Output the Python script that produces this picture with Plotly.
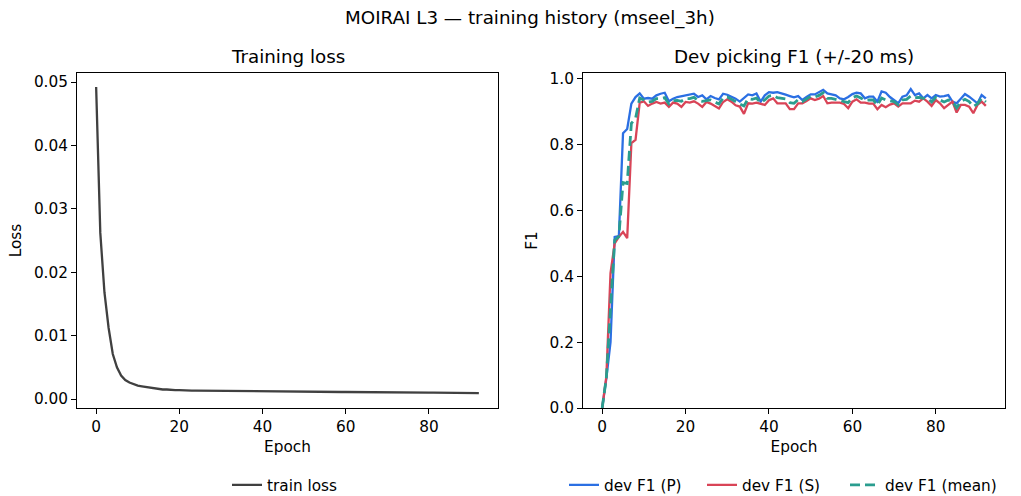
import plotly.graph_objects as go
from plotly.subplots import make_subplots

epochs = list(range(93))

train_loss = [
    0.0492, 0.0262, 0.0168, 0.0112, 0.0071, 0.0050, 0.0037, 0.0030, 0.0026, 0.0023,
    0.0021, 0.0020, 0.0019, 0.0017, 0.0016, 0.0016, 0.0015, 0.0015, 0.0014, 0.0014,
    0.0014, 0.00135, 0.00134, 0.00133, 0.00132, 0.00131, 0.00130, 0.00131, 0.00129, 0.00135,
    0.00127, 0.00126, 0.00126, 0.00125, 0.00124, 0.00124, 0.00123, 0.00123, 0.00122, 0.00121,
    0.00121, 0.00120, 0.00120, 0.00119, 0.00118, 0.00118, 0.00117, 0.00117, 0.00116, 0.00116,
    0.00115, 0.00115, 0.00114, 0.00114, 0.00113, 0.00113, 0.00112, 0.00111, 0.00111, 0.00110,
    0.00110, 0.00109, 0.00109, 0.00108, 0.00108, 0.00107, 0.00107, 0.00106, 0.00106, 0.00105,
    0.00105, 0.00104, 0.00104, 0.00103, 0.00103, 0.00102, 0.00101, 0.00101, 0.00100, 0.00100,
    0.00099, 0.00099, 0.00098, 0.00098, 0.00097, 0.00097, 0.00096, 0.00096, 0.00095, 0.00095,
    0.00094, 0.00093, 0.00093,
]

f1_p = [
    0.000, 0.090, 0.200, 0.520, 0.522, 0.835, 0.848, 0.925, 0.945, 0.956,
    0.940, 0.942, 0.940, 0.950, 0.955, 0.958, 0.932, 0.940, 0.945, 0.948,
    0.950, 0.952, 0.955, 0.945, 0.950, 0.938, 0.948, 0.942, 0.938, 0.955,
    0.952, 0.946, 0.940, 0.931, 0.942, 0.953, 0.950, 0.956, 0.931, 0.950,
    0.960, 0.958, 0.960, 0.957, 0.952, 0.948, 0.944, 0.948, 0.936, 0.945,
    0.953, 0.953, 0.960, 0.967, 0.956, 0.954, 0.950, 0.941, 0.938, 0.945,
    0.954, 0.958, 0.956, 0.941, 0.946, 0.946, 0.931, 0.962, 0.958, 0.945,
    0.936, 0.926, 0.946, 0.950, 0.969, 0.951, 0.956, 0.941, 0.951, 0.941,
    0.951, 0.946, 0.948, 0.951, 0.931, 0.926, 0.940, 0.954, 0.946, 0.936,
    0.926, 0.951, 0.941,
]

f1_s = [
    0.000, 0.095, 0.410, 0.500, 0.520, 0.535, 0.516, 0.805, 0.815, 0.928,
    0.932, 0.918, 0.925, 0.930, 0.925, 0.928, 0.915, 0.928, 0.925, 0.915,
    0.930, 0.928, 0.932, 0.925, 0.915, 0.930, 0.925, 0.918, 0.910, 0.930,
    0.938, 0.931, 0.920, 0.916, 0.894, 0.926, 0.925, 0.928, 0.924, 0.921,
    0.935, 0.941, 0.926, 0.926, 0.926, 0.908, 0.908, 0.926, 0.926, 0.933,
    0.941, 0.936, 0.940, 0.948, 0.926, 0.928, 0.928, 0.928, 0.924, 0.911,
    0.931, 0.938, 0.928, 0.928, 0.925, 0.925, 0.908, 0.921, 0.914, 0.922,
    0.926, 0.916, 0.926, 0.926, 0.926, 0.934, 0.931, 0.941, 0.931, 0.918,
    0.936, 0.926, 0.911, 0.921, 0.931, 0.898, 0.921, 0.921, 0.916, 0.896,
    0.921, 0.931, 0.918,
]

f1_mean = [
    0.000, 0.092, 0.305, 0.510, 0.521, 0.685, 0.682, 0.865, 0.880, 0.942,
    0.936, 0.930, 0.932, 0.940, 0.940, 0.943, 0.924, 0.934, 0.935, 0.932,
    0.940, 0.940, 0.944, 0.935, 0.932, 0.934, 0.936, 0.930, 0.924, 0.942,
    0.945, 0.938, 0.930, 0.924, 0.918, 0.940, 0.938, 0.942, 0.928, 0.936,
    0.948, 0.950, 0.943, 0.942, 0.939, 0.928, 0.926, 0.937, 0.931, 0.939,
    0.947, 0.945, 0.950, 0.958, 0.941, 0.941, 0.939, 0.935, 0.931, 0.928,
    0.943, 0.948, 0.942, 0.935, 0.936, 0.936, 0.920, 0.942, 0.936, 0.934,
    0.931, 0.921, 0.936, 0.938, 0.948, 0.943, 0.944, 0.941, 0.941, 0.930,
    0.944, 0.936, 0.930, 0.936, 0.931, 0.912, 0.931, 0.938, 0.931, 0.916,
    0.924, 0.941, 0.930,
]

x_ticks = [0, 20, 40, 60, 80]
loss_ticks = [0.00, 0.01, 0.02, 0.03, 0.04, 0.05]
f1_ticks = [0.0, 0.2, 0.4, 0.6, 0.8, 1.0]

FONT = "DejaVu Sans"
FS = 15.3
FS_T = 18.3
W, H = 1021, 496
ML, MR, MT, MB = 77, 16, 73, 88
PW = W - ML - MR
PH = H - MT - MB


def px_x(px):
    return (px - ML) / PW


def px_y(py):
    return (H - MB - py) / PH


fig = make_subplots(rows=1, cols=2, horizontal_spacing=(583 - 498) / PW)
fig.update_xaxes(domain=[0, px_x(498)], row=1, col=1)
fig.update_xaxes(domain=[px_x(583), 1], row=1, col=2)

fig.add_trace(go.Scatter(x=epochs, y=train_loss, mode="lines", name="train loss",
                         line=dict(color="#404040", width=2.3), legend="legend"),
              row=1, col=1)
fig.add_trace(go.Scatter(x=epochs, y=f1_p, mode="lines", name="dev F1 (P)",
                         line=dict(color="#2b6fe3", width=2.3), legend="legend2"),
              row=1, col=2)
fig.add_trace(go.Scatter(x=epochs, y=f1_s, mode="lines", name="dev F1 (S)",
                         line=dict(color="#d94457", width=2.3), legend="legend3"),
              row=1, col=2)
fig.add_trace(go.Scatter(x=epochs, y=f1_mean, mode="lines", name="dev F1 (mean)",
                         line=dict(color="#2a9d8f", width=2.8, dash="10px,5px"), legend="legend4"),
              row=1, col=2)

axis_common = dict(showline=True, linecolor="black", linewidth=1, mirror=True,
                   ticks="outside", ticklen=5, tickcolor="black", tickwidth=1,
                   showgrid=False, zeroline=False,
                   tickfont=dict(family=FONT, size=FS, color="black"))

fig.update_xaxes(**axis_common, range=[-4.6, 96.6], tickvals=x_ticks,
                 title=dict(text="Epoch", font=dict(family=FONT, size=FS, color="black"), standoff=5))
fig.update_yaxes(**axis_common)
fig.update_yaxes(range=[-0.00142, 0.05142], tickvals=loss_ticks, tickformat=".2f",
                 title=dict(text="Loss", font=dict(family=FONT, size=FS, color="black"), standoff=8),
                 row=1, col=1)
fig.update_yaxes(range=[0, 1.018], tickvals=f1_ticks, tickformat=".1f",
                 title=dict(text="F1", font=dict(family=FONT, size=FS, color="black"), standoff=8),
                 row=1, col=2)

fig.add_annotation(text="MOIRAI L3 — training history (mseel_3h)", xref="paper", yref="paper",
                   x=px_x(530), y=px_y(18), xanchor="center", yanchor="middle",
                   showarrow=False, font=dict(family=FONT, size=FS_T, color="black"))
fig.add_annotation(text="Training loss", xref="paper", yref="paper",
                   x=px_x((77 + 498) / 2), y=px_y(57), xanchor="center", yanchor="middle",
                   showarrow=False, font=dict(family=FONT, size=FS_T, color="black"))
fig.add_annotation(text="Dev picking F1 (+/-20 ms)", xref="paper", yref="paper",
                   x=px_x((583 + 1005) / 2), y=px_y(57), xanchor="center", yanchor="middle",
                   showarrow=False, font=dict(family=FONT, size=FS_T, color="black"))


def leg(line_start):
    return dict(orientation="h", x=px_x(line_start), y=px_y(485),
                xanchor="left", yanchor="middle", bgcolor="rgba(0,0,0,0)",
                borderwidth=0, font=dict(family=FONT, size=FS, color="black"))


fig.update_layout(
    width=W, height=H,
    margin=dict(l=ML, r=MR, t=MT, b=MB, autoexpand=False),
    paper_bgcolor="white", plot_bgcolor="white",
    showlegend=True,
    font=dict(family=FONT, size=FS, color="black"),
    legend=leg(227),
    legend2=leg(564),
    legend3=leg(702),
    legend4=leg(845),
)

fig.write_html("out.html")
